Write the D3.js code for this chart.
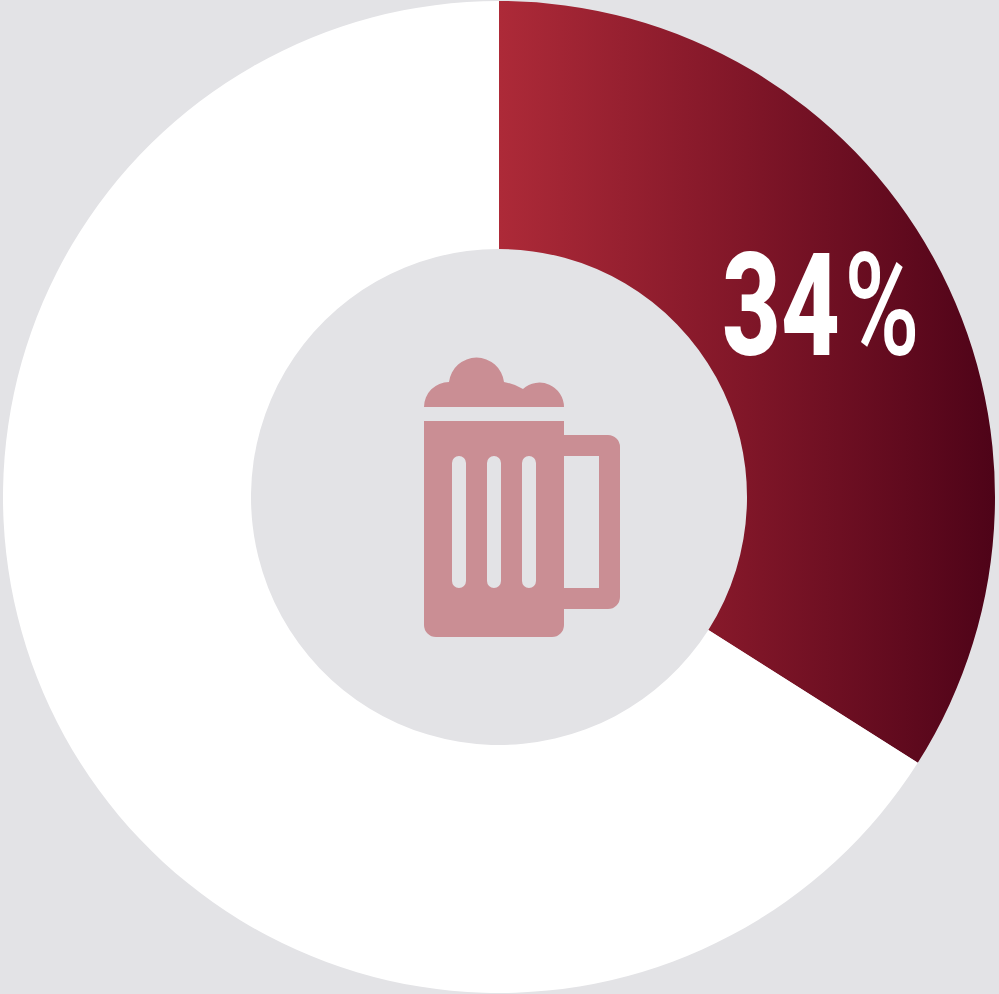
<!DOCTYPE html>
<html>
<head>
<meta charset="utf-8">
<script src="https://cdn.jsdelivr.net/npm/d3@7"></script>
<style>
  html, body { margin: 0; padding: 0; background: #e3e3e6; overflow: hidden; }
  svg { display: block; }
</style>
</head>
<body>
<svg id="chart" width="999" height="994"></svg>
<script>
// Share of the ring taken by each category, in percent
const categories = ["Beer", "Other"];
const shares = [34, 66];
const shareDigits = "34";
const shareSign = "%";

const cx = 499, cy = 497;
const outerRadius = 496, innerRadius = 248;

const svg = d3.select("#chart");

// Left-to-right burgundy ramp across the coloured slice
const defs = svg.append("defs");
const ramp = defs.append("linearGradient")
  .attr("id", "sliceRamp")
  .attr("gradientUnits", "userSpaceOnUse")
  .attr("x1", 0).attr("x2", outerRadius)
  .attr("y1", 0).attr("y2", 0);
ramp.append("stop").attr("offset", 0).attr("stop-color", "#ad2a38");
ramp.append("stop").attr("offset", 0.5).attr("stop-color", "#801628");
ramp.append("stop").attr("offset", 1).attr("stop-color", "#4e0318");

const pie = d3.pie().sort(null).value(d => d);
const arc = d3.arc().innerRadius(innerRadius).outerRadius(outerRadius);
const fills = d3.scaleOrdinal().domain(categories).range(["url(#sliceRamp)", "#ffffff"]);

const ring = svg.append("g").attr("transform", `translate(${cx},${cy})`);
ring.selectAll("path")
  .data(pie(shares))
  .join("path")
  .attr("d", arc)
  .attr("fill", (d, i) => fills(categories[i]));

// Value label: squeezed bold digits with a lighter percent sign beside them
const label = svg.append("text")
  .attr("transform", "translate(722,355) scale(0.715,1)")
  .attr("font-family", "Roboto, sans-serif")
  .attr("font-size", 143)
  .attr("font-weight", 800)
  .attr("fill", "#ffffff")
  .text(shareDigits);

label.append("tspan")
  .attr("dx", 6)
  .attr("font-weight", 500)
  .attr("font-stretch", "normal")
  .style("letter-spacing", "0px")
  .text(shareSign);

// Beer mug pictogram in the hole of the ring
const mug = [
  // foam
  "M424,407 A25,25 0 0 1 449,382 A27.7,27.7 0 0 1 504,382 Q515,384 523,389 A24.5,24.5 0 0 1 564,407 Z",
  // body with handle, slots and handle opening cut out
  "M424,421 H564 V435 H608 A12,12 0 0 1 620,447 V597 A12,12 0 0 1 608,609 H564 V625 A12,12 0 0 1 552,637 H436 A12,12 0 0 1 424,625 Z",
  "M564,456 V588 H599 V456 Z",
  "M452,463 A7,7 0 0 1 466,463 V581 A7,7 0 0 1 452,581 Z",
  "M487,463 A7,7 0 0 1 501,463 V581 A7,7 0 0 1 487,581 Z",
  "M522,463 A7,7 0 0 1 536,463 V581 A7,7 0 0 1 522,581 Z"
].join(" ");

svg.append("path")
  .attr("d", mug)
  .attr("fill", "#ca8e94")
  .attr("fill-rule", "evenodd");
</script>
</body>
</html>
